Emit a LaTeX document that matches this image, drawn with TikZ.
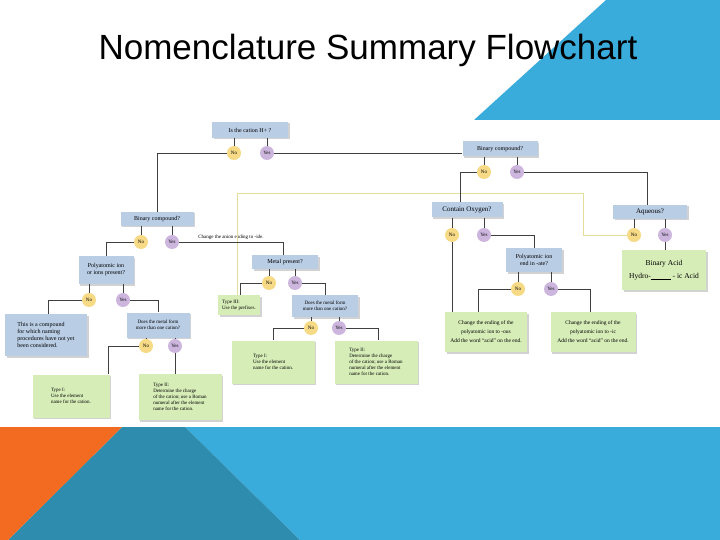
\documentclass[tikz,border=0pt]{standalone}
\usepackage{fontspec}
\setmainfont{Liberation Serif}
\newfontfamily\titlefont{Liberation Sans}
\usetikzlibrary{shadows}
\definecolor{bblue}{HTML}{B9CDE5}
\definecolor{ggreen}{HTML}{D6EDB8}
\definecolor{ycirc}{HTML}{F7DA86}
\definecolor{pcirc}{HTML}{CDB6DE}
\definecolor{skyb}{HTML}{3AACDC}
\definecolor{tealb}{HTML}{2E8CAE}
\definecolor{orng}{HTML}{F26B21}
\definecolor{ylin}{HTML}{E3DE98}
\tikzset{
 bx/.style={draw=none,fill=bblue,drop shadow={shadow xshift=1.5pt,shadow yshift=-1.5pt,opacity=.35},inner sep=1pt,align=center,font=\fontsize{6}{7}\selectfont},
 gx/.style={bx,fill=ggreen,align=left},
 yn/.style={circle,fill=ycirc,minimum size=14pt,inner sep=0pt,font=\fontsize{5}{5}\selectfont},
 ys/.style={circle,fill=pcirc,minimum size=14pt,inner sep=0pt,font=\fontsize{5}{5}\selectfont},
 ln/.style={draw=black!75,line width=0.6pt},
 yl/.style={draw=ylin,line width=0.8pt}
}
\begin{document}
\begin{tikzpicture}[x=1pt,y=-1pt]
\useasboundingbox (0,0) rectangle (720,540);
\fill[white] (0,0) rectangle (720,540);
\fill[skyb] (474,120) -- (606,0) -- (720,0) -- (720,120) -- cycle;
\fill[skyb] (185,427) -- (720,427) -- (720,540) -- (300,540) -- cycle;
\fill[tealb] (122,427) -- (185,427) -- (300,540) -- (8,540) -- cycle;
\fill[orng] (0,427) -- (122,427) -- (8,540) -- (0,540) -- cycle;
\node[font=\titlefont\fontsize{35}{40}\selectfont] (title) at (368,50) {Nomenclature Summary Flowchart};

\coordinate (ya) at (237,193); \coordinate (yb) at (583,193); \coordinate (yc) at (583,235);
\node[bx,minimum width=76pt,minimum height=16pt] (q1) at (250,130) {Is the cation H+ ?};
\node[yn] (n1) at (234,153) {No}; \node[ys] (y1) at (267,153) {Yes};
\node[bx,minimum width=75pt,minimum height=15pt] (bR) at (500,149) {Binary compound?};
\node[yn] (nR) at (484,172) {No}; \node[ys] (yR) at (517,172) {Yes};
\node[bx,minimum width=71pt,minimum height=15pt,font=\fontsize{7}{8}\selectfont] (ox) at (467,210) {Contain Oxygen?};
\node[yn] (nO) at (452,235) {No}; \node[ys] (yO) at (484,235) {Yes};
\node[bx,minimum width=74pt,minimum height=14pt,font=\fontsize{7}{8}\selectfont] (aq) at (650,212) {Aqueous?};
\node[yn] (nA) at (634,235) {No}; \node[ys] (yA) at (665,235) {Yes};
\node[gx,align=center,minimum width=84pt,minimum height=40pt,font=\fontsize{7.5}{13}\selectfont] (ba) at (664,270) {Binary Acid\\Hydro-\underline{\hspace{20pt}} - ic Acid};
\node[bx,minimum width=56pt,minimum height=24pt] (pa) at (534,260) {Polyatomic ion\\end in -ate?};
\node[yn] (nP) at (518,289) {No}; \node[ys] (yP) at (551,289) {Yes};
\node[gx,align=center,minimum width=82pt,minimum height=40pt,font=\fontsize{5.5}{9}\selectfont] (ous) at (486,332) {Change the ending of the\\polyatomic ion to -ous\\Add the word ``acid'' on the end.};
\node[gx,align=center,minimum width=85pt,minimum height=40pt,font=\fontsize{5.5}{9}\selectfont] (ic) at (593,332) {Change the ending of the\\polyatomic ion to -ic\\Add the word ``acid'' on the end.};

\node[bx,minimum width=73pt,minimum height=14pt] (bL) at (157,219) {Binary compound?};
\node[yn] (nB) at (141,242) {No}; \node[ys] (yB) at (172,242) {Yes};
\node[font=\fontsize{5}{6}\selectfont] (ide) at (231,237) {Change the anion ending to -ide.};
\node[bx,minimum width=66pt,minimum height=14pt] (mp) at (285,262) {Metal present?};
\node[yn] (nM) at (269,283) {No}; \node[ys] (yM) at (295,283) {Yes};
\node[gx,minimum width=42pt,minimum height=20pt,font=\fontsize{5}{6}\selectfont] (t3) at (239,305) {Type III:\\Use the prefixes.};
\node[bx,minimum width=66pt,minimum height=22pt,font=\fontsize{5}{6}\selectfont] (dR) at (325,306) {Does the metal form\\more than one cation?};
\node[yn] (nD) at (311,328) {No}; \node[ys] (yD) at (339,328) {Yes};
\node[gx,minimum width=83pt,minimum height=43pt,font=\fontsize{5}{6}\selectfont] (t1R) at (273,362) {Type I:\\Use the element\\name for the cation.};
\node[gx,minimum width=83pt,minimum height=43pt,font=\fontsize{5}{6}\selectfont] (t2R) at (376,362) {Type II:\\Determine the charge\\of the cation; use a Roman\\numeral after the element\\name for the cation.};

\node[bx,minimum width=55pt,minimum height=28pt] (po) at (106,270) {Polyatomic ion\\or ions present?};
\node[yn] (nPo) at (89,300) {No}; \node[ys] (yPo) at (123,300) {Yes};
\node[bx,align=left,minimum width=82pt,minimum height=42pt] (tc) at (46,335) {This is a compound\\for which naming\\procedures have not yet\\been considered.};
\node[bx,minimum width=63pt,minimum height=25pt,font=\fontsize{5}{6}\selectfont] (dL) at (158,325) {Does the metal form\\more than one cation?};
\node[yn] (nL) at (146,346) {No}; \node[ys] (yL) at (175,346) {Yes};
\node[gx,minimum width=77pt,minimum height=43pt,font=\fontsize{5}{6}\selectfont] (t1L) at (71,396) {Type I:\\Use the element\\name for the cation.};
\node[gx,minimum width=83pt,minimum height=46pt,font=\fontsize{5}{6}\selectfont] (t2L) at (180,397) {Type II:\\Determine the charge\\of the cation; use a Roman\\numeral after the element\\name for the cation.};

\draw[yl] (t3.north -| ya) -- (ya) -- (yb) -- (yc) -- (nA.west);
\draw[ln] (q1.south -| n1) -- (n1.north);
\draw[ln] (q1.south -| y1) -- (y1.north);
\draw[ln] (n1.west) -| (bL.north);
\draw[ln] (y1.east) -- (y1.east -| bR.west);
\draw[ln] (bR.south -| nR) -- (nR.north);
\draw[ln] (bR.south -| yR) -- (yR.north);
\draw[ln] (nR.west) -| (ox.north -| 460,0);
\draw[ln] (yR.east) -| (aq.north -| 647,0);
\draw[ln] (ox.south -| nO) -- (nO.north);
\draw[ln] (ox.south -| yO) -- (yO.north);
\draw[ln] (aq.south -| nA) -- (nA.north);
\draw[ln] (aq.south -| yA) -- (yA.north);
\draw[ln] (yA.south) -- (ba.north -| yA);
\draw[ln] (nO.south) -- (ous.north -| nO);
\draw[ln] (yO.east) -| (pa.north);
\draw[ln] (pa.south -| nP) -- (nP.north);
\draw[ln] (pa.south -| yP) -- (yP.north);
\draw[ln] (nP.west) -| (ous.north -| 478,0);
\draw[ln] (yP.east) -| (ic.north -| 590,0);
\draw[ln] (bL.south -| nB) -- (nB.north);
\draw[ln] (bL.south -| yB) -- (yB.north);
\draw[ln] (nB.west) -| (po.north);
\draw[ln] (yB.east) -| (mp.north -| 283,0);
\draw[ln] (mp.south -| nM) -- (nM.north);
\draw[ln] (mp.south -| yM) -- (yM.north);
\draw[ln] (nM.west) -| (t3.north -| 240,0);
\draw[ln] (yM.east) -| (dR.north);
\draw[ln] (dR.south -| nD) -- (nD.north);
\draw[ln] (dR.south -| yD) -- (yD.north);
\draw[ln] (nD.west) -| (t1R.north);
\draw[ln] (yD.east) -| (t2R.north -| 378,0);
\draw[ln] (po.south -| nPo) -- (nPo.north);
\draw[ln] (po.south -| yPo) -- (yPo.north);
\draw[ln] (nPo.west) -| (tc.north -| 48,0);
\draw[ln] (yPo.east) -| (dL.north);
\draw[ln] (dL.south -| nL) -- (nL.north);
\draw[ln] (dL.south -| yL) -- (yL.north);
\draw[ln] (nL.west) -| (t1L.north -| 108,0);
\draw[ln] (yL.south) -- (t2L.north -| yL);
\end{tikzpicture}
\end{document}
